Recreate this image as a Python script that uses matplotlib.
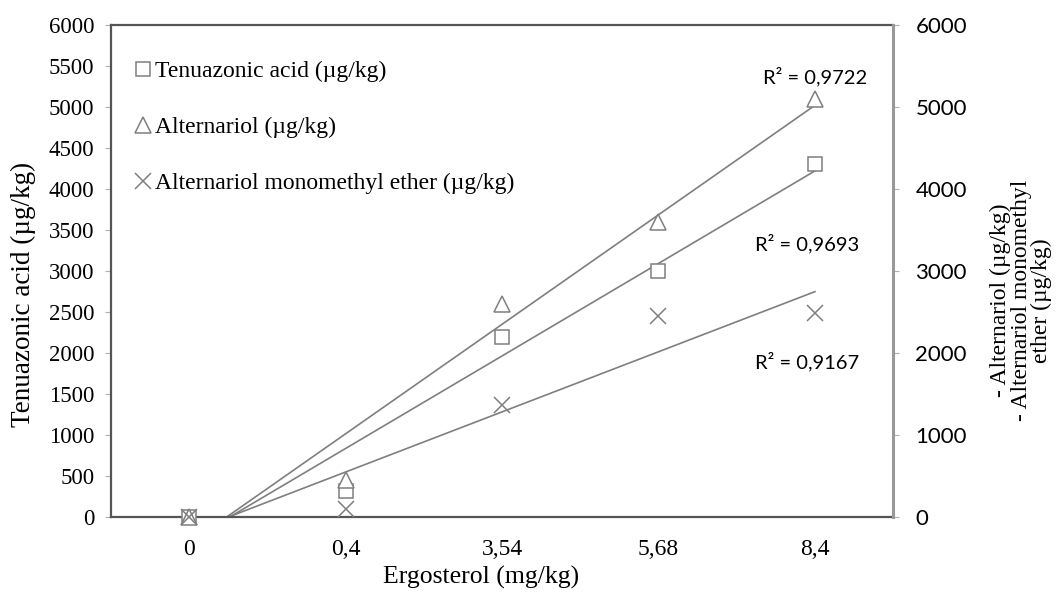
import numpy as np
import matplotlib.pyplot as plt
from matplotlib.lines import Line2D

categories = ["0", "0,4", "3,54", "5,68", "8,4"]
tenuazonic = [0, 320, 2200, 3000, 4300]
alternariol = [0, 450, 2600, 3600, 5100]
ame = [0, 100, 1370, 2450, 2490]
r2_labels = ["R² = 0,9722", "R² = 0,9693", "R² = 0,9167"]

serif = "Liberation Serif"
sans = "Lato"
gray = "#7f7f7f"

fig = plt.figure(figsize=(10.62, 5.94), dpi=100)
ax = fig.add_axes([0.1045, 0.1296, 0.7365, 0.8284])
ax2 = ax.twinx()

x = np.arange(len(categories))

# trendlines (linear fit over category positions, like Excel)
for ys in (tenuazonic, alternariol, ame):
    k, b = np.polyfit(x, ys, 1)
    ax.plot(x, k * x + b, color=gray, lw=1.2, zorder=2)

ax.plot(x, tenuazonic, ls="none", marker="s", ms=10, mfc="white", mec=gray,
        mew=1.1, clip_on=False, zorder=3)
ax2.plot(x, alternariol, ls="none", marker="^", ms=11, mfc="white", mec=gray,
         mew=1.1, clip_on=False, zorder=3)
ax2.plot(x, ame, ls="none", marker="x", ms=11, mec=gray, mew=1.1,
         clip_on=False, zorder=3)

ax.set_xlim(-0.5, 4.5)
ax.set_ylim(0, 6000)
ax2.set_ylim(0, 6000)
ax.set_xticks(x)
ax.set_xticklabels(categories, fontfamily=serif, fontsize=17)
ax.tick_params(axis="x", length=0, pad=16)
ax.set_yticks(np.arange(0, 6001, 500))
ax.set_yticklabels([str(v) for v in range(0, 6001, 500)], fontfamily=serif, fontsize=16.5)
ax.tick_params(axis="y", length=4, color="#b0b0b0", pad=8)
ax2.set_yticks(np.arange(0, 6001, 1000))
ax2.set_yticklabels([str(v) for v in range(0, 6001, 1000)], fontfamily=sans, fontsize=16)
ax2.tick_params(axis="y", length=4, color="#b0b0b0", pad=12)

for s in ("left", "bottom", "top"):
    ax.spines[s].set_color("#555555")
    ax.spines[s].set_linewidth(1.6)
ax2.spines["right"].set_color("#999999")
ax2.spines["right"].set_linewidth(2.2)
for s in ("left", "bottom", "top"):
    ax2.spines[s].set_visible(False)

ax.set_xlabel("Ergosterol (mg/kg)", fontfamily=serif, fontsize=18.5, va="center")
ax.xaxis.set_label_coords(0.473, -0.122)
ax.set_ylabel("Tenuazonic acid (µg/kg)", fontfamily=serif, fontsize=19.5, va="center")
ax.yaxis.set_label_coords(-0.1125, 0.453)
ax2.set_ylabel("- Alternariol (µg/kg)\n- Alternariol monomethyl\nether (µg/kg)",
               fontfamily=serif, fontsize=17, linespacing=0.95, va="center")
ax2.yaxis.set_label_coords(1.1637, 0.44)

ax.text(4.0, 5370, r2_labels[0], fontfamily=sans, fontsize=14.5, ha="center", va="center")
ax.text(3.95, 3340, r2_labels[1], fontfamily=sans, fontsize=14.5, ha="center", va="center")
ax.text(3.95, 1890, r2_labels[2], fontfamily=sans, fontsize=14.5, ha="center", va="center")

handles = [
    Line2D([], [], ls="none", marker="s", ms=10, mfc="white", mec=gray, mew=1.1),
    Line2D([], [], ls="none", marker="^", ms=11, mfc="white", mec=gray, mew=1.1),
    Line2D([], [], ls="none", marker="x", ms=11, mec=gray, mew=1.1),
]
labels = ["Tenuazonic acid (µg/kg)", "Alternariol (µg/kg)",
          "Alternariol monomethyl ether (µg/kg)"]
leg = ax2.legend(handles, labels, loc="upper left", bbox_to_anchor=(0.0, 0.97),
                 frameon=False, handlelength=0.9, handletextpad=0.05,
                 labelspacing=1.45, prop={"family": serif, "size": 17})

fig.savefig("out.png", dpi=100)
